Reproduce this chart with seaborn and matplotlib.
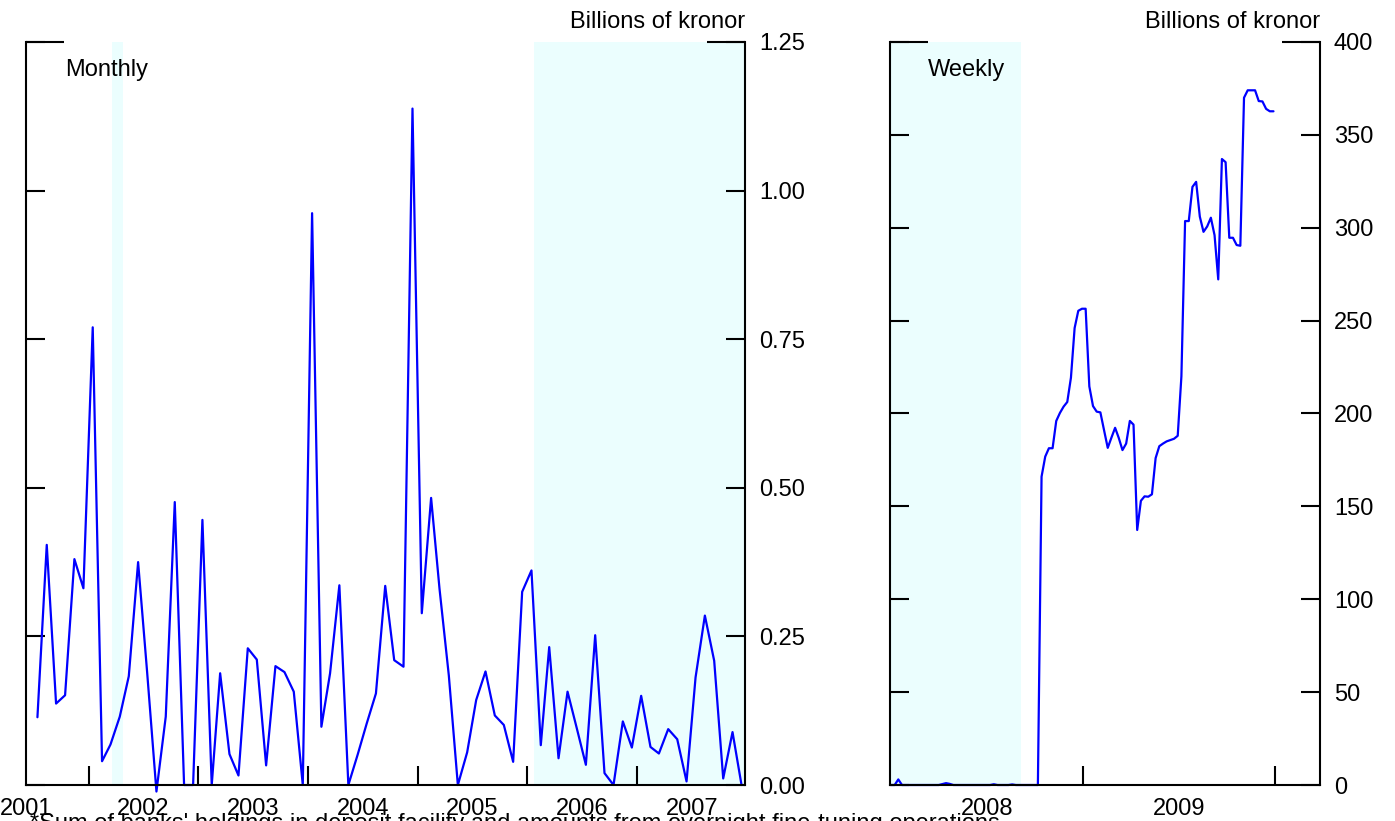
import numpy as np
import pandas as pd
import matplotlib.pyplot as plt
import seaborn as sns

# Monthly series, Jul 2001 - Dec 2007 (billions of kronor)
monthly_values = [
    0.114, 0.404, 0.137, 0.151, 0.380, 0.331, 0.770, 0.040, 0.068, 0.115,
    0.183, 0.375, 0.190, -0.011, 0.115, 0.476, 0.000, 0.000, 0.446, 0.000,
    0.188, 0.052, 0.016, 0.230, 0.211, 0.033, 0.200, 0.190, 0.157, 0.000,
    0.962, 0.098, 0.188, 0.336, 0.000, 0.051, 0.103, 0.154, 0.335, 0.210,
    0.199, 1.138, 0.289, 0.483, 0.330, 0.184, 0.000, 0.055, 0.143, 0.191,
    0.117, 0.101, 0.039, 0.325, 0.361, 0.067, 0.232, 0.045, 0.157, 0.095,
    0.034, 0.252, 0.020, 0.000, 0.107, 0.063, 0.150, 0.064, 0.053, 0.094,
    0.077, 0.006, 0.181, 0.285, 0.209, 0.011, 0.089, 0.000,
]

# Weekly series, 2008 - 2009 (billions of kronor)
weekly_values = [
    0, 0, 3, 0, 0, 0, 0, 0, 0, 0,
    0, 0, 0, 0, 0.5, 1.0, 0.6, 0, 0, 0,
    0, 0, 0, 0, 0, 0, 0, 0, 0.4, 0,
    0, 0, 0, 0.3, 0, 0, 0, 0, 0, 0,
    0, 166, 176.8, 181.3, 181.3, 196, 200.3, 203.7, 206.2, 219.3,
    246, 255.3, 256.4, 256.4, 214.6, 204, 201, 200.6, 191, 181.5,
    187, 192.3, 186.8, 180.3, 183.8, 196, 194, 137.3, 153, 155.4,
    155.2, 156.5, 176, 182.4, 183.8, 185, 185.7, 186.4, 188, 220,
    303.6, 303.6, 322, 324.7, 306, 297.8, 300.7, 305.4, 296, 272.2,
    337, 335.3, 294.6, 294.6, 290.7, 290.3, 370, 374, 374, 374,
    368.2, 368, 364, 362.7, 362.7,
]

monthly_dates = pd.date_range("2001-07-01", periods=len(monthly_values), freq="MS") + pd.Timedelta(days=14)
weekly_dates = pd.date_range("2008-01-01", periods=len(weekly_values), freq="7D")

monthly_shading = [("2002-03-20", "2002-04-27"), ("2006-01-25", "2008-02-01")]
weekly_shading = [("2007-12-25", "2008-09-05")]

monthly_ticks = [0, 0.25, 0.5, 0.75, 1.0, 1.25]
monthly_ticklabels = ["0.00", "0.25", "0.50", "0.75", "1.00", "1.25"]
weekly_ticks = [0, 50, 100, 150, 200, 250, 300, 350, 400]
monthly_years = [2001, 2002, 2003, 2004, 2005, 2006, 2007]
weekly_years = [2008, 2009]

footnote = ("*Sum of banks' holdings in deposit facility and amounts from "
            "overnight fine-tuning operations")


def dec_year(d):
    d = pd.to_datetime(d)
    return d.year + (d.dayofyear - 1) / (365 + d.is_leap_year)


sns.set_style("white")
plt.rcParams["font.family"] = ["Liberation Sans", "DejaVu Sans"]
plt.rcParams["text.color"] = "black"
plt.rcParams["xtick.color"] = "black"
plt.rcParams["ytick.color"] = "black"
plt.rcParams["axes.labelcolor"] = "black"

FS = 17
SHADE = "#EBFEFE"
W, H = 1395, 821
fig = plt.figure(figsize=(W / 100, H / 100), dpi=100)

ax1 = fig.add_axes([26 / W, 1 - 785 / H, 719 / W, 743 / H])
ax2 = fig.add_axes([890 / W, 1 - 785 / H, 430 / W, 743 / H])

# monthly panel
for a, b in monthly_shading:
    ax1.axvspan(dec_year(a), dec_year(b), color=SHADE, lw=0, zorder=0)
sns.lineplot(x=np.asarray(dec_year(monthly_dates)), y=monthly_values, ax=ax1,
             color="#0000FF", lw=1.6, estimator=None)
ax1.set_xlim(2001.43, 2007.985)
ax1.set_ylim(0, 1.25)
ax1.set_yticks(monthly_ticks)
ax1.set_yticklabels(monthly_ticklabels)
ax1.set_xticks(monthly_years[1:])
ax1.set_xticklabels([])
ax1.set_xticks([2001.43] + [y + 0.5 for y in monthly_years[1:]], minor=True)
ax1.set_xticklabels([str(y) for y in monthly_years], minor=True)

# weekly panel
for a, b in weekly_shading:
    ax2.axvspan(dec_year(a), dec_year(b), color=SHADE, lw=0, zorder=0)
sns.lineplot(x=np.asarray(dec_year(weekly_dates)), y=weekly_values, ax=ax2,
             color="#0000FF", lw=1.6, estimator=None)
ax2.set_xlim(2007.995, 2010.234)
ax2.set_ylim(0, 400)
ax2.set_yticks(weekly_ticks)
ax2.set_yticklabels([str(v) for v in weekly_ticks])
ax2.set_xticks([2009, 2010])
ax2.set_xticklabels([])
ax2.set_xticks([y + 0.5 for y in weekly_years], minor=True)
ax2.set_xticklabels([str(y) for y in weekly_years], minor=True)

for ax, width in [(ax1, 719), (ax2, 430)]:
    for line in ax.get_lines():
        line.set_clip_on(False)
    ax.set_xlabel("")
    ax.set_ylabel("")
    ax.spines["top"].set_visible(False)
    for s in ["left", "right", "bottom"]:
        ax.spines[s].set_linewidth(1.5)
        ax.spines[s].set_color("black")
    ax.tick_params(axis="y", which="major", direction="in", length=13.5, width=1.5,
                   left=True, right=True, labelleft=False, labelright=True,
                   labelsize=FS, pad=10, colors="black")
    ax.tick_params(axis="x", which="major", direction="in", length=13.5, width=1.5,
                   bottom=True, top=False, colors="black")
    ax.tick_params(axis="x", which="minor", length=0, bottom=True,
                   labelsize=FS, pad=9, colors="black")
    # longer ticks at the top of both y axes
    f = 38 / width
    ax.plot([0, f], [1, 1], transform=ax.transAxes, color="black", lw=1.5,
            clip_on=False, solid_capstyle="butt")
    ax.plot([1 - f, 1], [1, 1], transform=ax.transAxes, color="black", lw=1.5,
            clip_on=False, solid_capstyle="butt")

fig.text(65 / W, 1 - 70 / H, "Monthly", fontsize=FS, ha="left", va="center")
fig.text(928 / W, 1 - 70 / H, "Weekly", fontsize=FS, ha="left", va="center")
fig.text(745 / W, 1 - 22 / H, "Billions of kronor", fontsize=FS, ha="right", va="center")
fig.text(1320 / W, 1 - 22 / H, "Billions of kronor", fontsize=FS, ha="right", va="center")
fig.text(30 / W, -9 / H, footnote, fontsize=FS, ha="left", va="baseline")

fig.savefig("out.png", dpi=100)
